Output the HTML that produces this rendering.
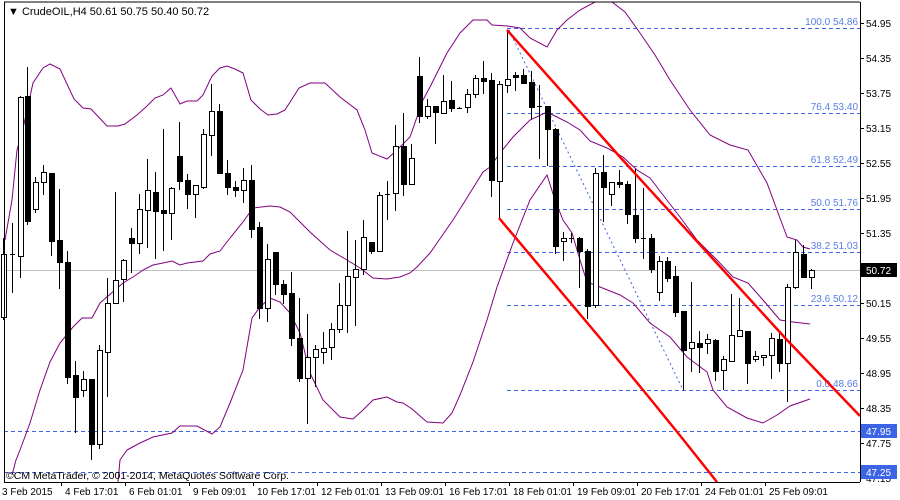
<!DOCTYPE html>
<html><head><meta charset="utf-8"><style>
html,body{margin:0;padding:0;background:#fff;}
svg{display:block;font-family:"Liberation Sans",sans-serif;}
</style></head><body>
<svg id="s" width="900" height="500" xmlns="http://www.w3.org/2000/svg">
<rect width="900" height="500" fill="#fff"/>
<g id="grid"></g>
<g id="bands" fill="none" stroke="#800080" stroke-width="1"></g>
<g id="candles"></g>
<g id="over"></g>
<line x1="4" y1="2" x2="860" y2="2" stroke="#000"/>
<line x1="4.5" y1="2" x2="4.5" y2="482" stroke="#000"/>
<line x1="860.5" y1="2" x2="860.5" y2="482" stroke="#000"/>
<line x1="4" y1="482.5" x2="860" y2="482.5" stroke="#000"/>
<g id="axis" font-size="10" fill="#000"></g>
<text x="8" y="15" font-size="11" fill="#000">▼ CrudeOIL,H4  50.61 50.75 50.40 50.72</text>
<text x="6" y="479" font-size="10.5" fill="#000">©CM MetaTrader, © 2001-2014, MetaQuotes Software Corp.</text>
</svg>
<script>
const NS="http://www.w3.org/2000/svg";
function el(p,t,a,txt){const e=document.createElementNS(NS,t);for(const k in a)e.setAttribute(k,a[k]);if(txt!==undefined)e.textContent=txt;document.getElementById(p).appendChild(e);return e;}
const Y=p=>303-(p-50.15)*58.33;
el("grid","line",{x1:4,x2:860,y1:270.5,y2:270.5,stroke:"#c0c0c0"});
[431.5,472.5].forEach(y=>el("grid","line",{x1:4,x2:860,y1:y,y2:y,stroke:"#3c64e6","stroke-dasharray":"4,3"}));
const fib=[["100.0 54.86",28],["76.4 53.40",113],["61.8 52.49",166],["50.0 51.76",209],["38.2 51.03",252],["23.6 50.12",305],["0.0 48.66",390]];
fib.forEach(f=>{el("grid","line",{x1:507,x2:860,y1:f[1]+.5,y2:f[1]+.5,stroke:"#3c64e6","stroke-dasharray":"4,3"});
el("grid","text",{x:858,y:f[1]-3,"text-anchor":"end","font-size":"10",fill:"#5a7ee6"},f[0]);});
el("grid","polyline",{points:"509,30 683,390",stroke:"#3c64e6","stroke-dasharray":"2,3",fill:"none"});
const up="5,240 12,200 17,150 22,133 33,83 43,68 50,64 60,69 74,99 83,108 91,109 107,126 118,126 125,124 137,115 147,106 155,98 163,95 171,88 180,104 187,101 197,101 203,95 212,76 220,68 227,66 235,69 243,73 251,100 260,109 268,115 277,114 285,110 299,88 310,83 325,83 340,97 357,110 365,130 372,153 387,159 397,150 410,137 423,100 430,87 447,53 460,33 473,20 487,20 492,25 507,26 520,28 530,38 547,47 557,30 567,20 580,10 595,2 612,2 625,12 640,33 655,55 670,80 690,110 710,135 730,145 748,150 767,183 777,210 787,237 797,240 803,247 810,249";
const mid="12,475 16,460 20,450 30,423 40,390 50,362 60,343 73,327 82,318 92,318 100,303 115,290 123,283 133,277 143,270 153,265 163,263 172,261 180,265 187,263 203,261 210,254 220,251 230,238 243,222 253,208 270,206 280,207 290,212 310,232 330,250 347,260 360,268 373,278 387,279 400,277 410,273 417,267 430,253 437,243 453,220 470,193 483,172 490,167 500,153 513,137 530,120 547,112 557,117 567,122 580,130 590,141 607,148 623,157 637,170 650,178 663,195 680,217 697,240 717,260 733,277 748,283 763,300 780,320 793,322 810,324";
const lo="118,482 120,460 127,450 140,443 153,437 172,433 180,426 197,426 212,434 220,427 230,403 243,370 252,318 260,307 270,298 280,302 290,313 300,333 310,373 323,400 340,417 353,419 363,410 373,400 387,397 397,402 403,403 412,409 427,422 443,423 452,413 460,395 473,362 483,332 487,320 497,287 513,243 530,200 547,175 555,200 563,220 572,233 580,260 587,282 600,287 620,295 633,303 650,323 670,337 687,357 707,372 713,390 727,407 747,418 763,423 777,415 790,406 810,399";
[up,mid,lo].forEach(p=>el("bands","polyline",{points:p}));
const C=[[3,317,254,238,320],[12,254,254,223,293],[20,256,97,96,278],[27,96,221,67,225],[35,209,182,177,213],[43,182,172,165,195],[51,173,241,173,256],[59,240,262,189,289],[67,262,377,251,384],[75,375,397,361,433],[83,390,379,371,397],[91,379,444,379,460],[99,444,350,345,449],[107,352,303,278,397],[115,303,280,192,304],[123,279,260,259,302],[131,238,243,228,273],[139,243,209,194,254],[147,210,190,159,248],[155,192,211,172,259],[163,210,213,129,251],[171,213,188,187,240],[179,156,181,122,190],[187,180,194,174,209],[195,194,185,185,218],[203,187,134,129,189],[211,135,111,84,156],
[219,111,173,104,173],[227,173,187,160,195],[235,187,190,181,197],[243,190,180,168,203],[251,180,229,165,238],[259,227,308,222,319],[267,308,259,244,322],[275,252,284,252,295],[283,284,294,280,304],[291,293,338,272,346],[299,338,378,298,382],[307,378,357,314,424],[315,357,349,345,387],[323,352,348,332,364],[331,347,329,323,360],[339,329,305,283,333],[347,305,276,231,333],[355,277,269,240,326],[363,269,237,220,275],[371,242,251,242,254],[379,251,195,192,251],[387,194,194,181,220],[395,193,146,125,211],[403,146,184,113,196],[411,184,158,144,185],[419,76,116,57,123],[427,116,106,99,119],
[435,106,112,106,144],[443,113,101,75,113],[451,100,108,81,112],[459,108,108,107,109],[467,107,94,89,113],[475,94,78,75,98],[483,78,81,61,94],[491,80,180,73,197],[499,181,84,81,218],[507,85,79,30,93],[515,75,77,72,91],[523,75,83,69,84],[531,82,107,71,119],[539,106,106,85,159],[547,106,129,106,166],[555,129,246,128,254],[563,241,238,232,261],[571,238,238,233,243],[579,238,251,237,288],[587,251,306,249,319],[595,305,173,168,308],[603,172,187,155,222],[611,194,182,182,206],[619,182,184,170,188],[627,184,214,181,224],[635,215,238,169,243],
[643,238,238,188,259],[651,238,269,234,273],[659,292,261,256,301],[667,261,278,257,282],[675,276,312,266,317],[683,311,350,311,390],[691,348,342,282,372],[699,343,347,331,373],[707,343,339,334,354],[715,340,371,339,381],[723,370,359,356,390],[731,361,335,294,361],[739,336,330,298,336],[747,331,363,331,384],[755,359,356,351,362],[763,357,355,355,366],[771,355,338,333,379],[779,339,363,332,372],[787,363,287,284,402],[795,287,252,240,289],[803,254,277,245,278],[811,277,270,269,289]];
C.forEach(c=>{const[x,o,cl,h,l]=c;const bull=cl<o;
el("candles","line",{x1:x+.5,x2:x+.5,y1:h,y2:l,stroke:"#000"});
const t=Math.min(o,cl),b=Math.max(o,cl);
if(b-t<1){el("candles","line",{x1:x-2,x2:x+3,y1:t+.5,y2:t+.5,stroke:"#000"});}
else el("candles","rect",{x:x-1.5,y:t+.5,width:5,height:b-t,fill:bull?"#fff":"#000",stroke:"#000"});});
el("over","polyline",{points:"507,30 620,157 787,340 860,416",stroke:"#f00","stroke-width":"2.5",fill:"none"});
el("over","polyline",{points:"499,218 600,338 643,390 678,433 717,482",stroke:"#f00","stroke-width":"2.5",fill:"none"});
for(let i=0;i<14;i++){const p=54.95-0.6*i;const y=Y(p);if(Math.abs(p-50.75)<0.01)continue;
el("axis","line",{x1:860,x2:864,y1:Math.round(y)+.5,y2:Math.round(y)+.5,stroke:"#000"});
el("axis","text",{x:866,y:y+4},p.toFixed(2));}
[["50.72",270,"#000"],["47.95",431,"#3c64e6"],["47.25",472,"#3c64e6"]].forEach(b=>{
el("axis","rect",{x:861,y:b[1]-7,width:36,height:14,fill:b[2]});
el("axis","text",{x:866,y:b[1]+4,fill:"#fff"},b[0]);});
const T=["3 Feb 2015","4 Feb 17:01","6 Feb 01:01","9 Feb 09:01","10 Feb 17:01","12 Feb 01:01","13 Feb 09:01","16 Feb 17:01","18 Feb 01:01","19 Feb 09:01","20 Feb 17:01","24 Feb 01:01","25 Feb 09:01"];
T.forEach((t,i)=>{const x=i==0?2:65+64*(i-1);
if(i>0)el("axis","line",{x1:x-3.5,x2:x-3.5,y1:482,y2:486,stroke:"#000"});
el("axis","text",{x:x,y:495},t);});
</script>
</body></html>
